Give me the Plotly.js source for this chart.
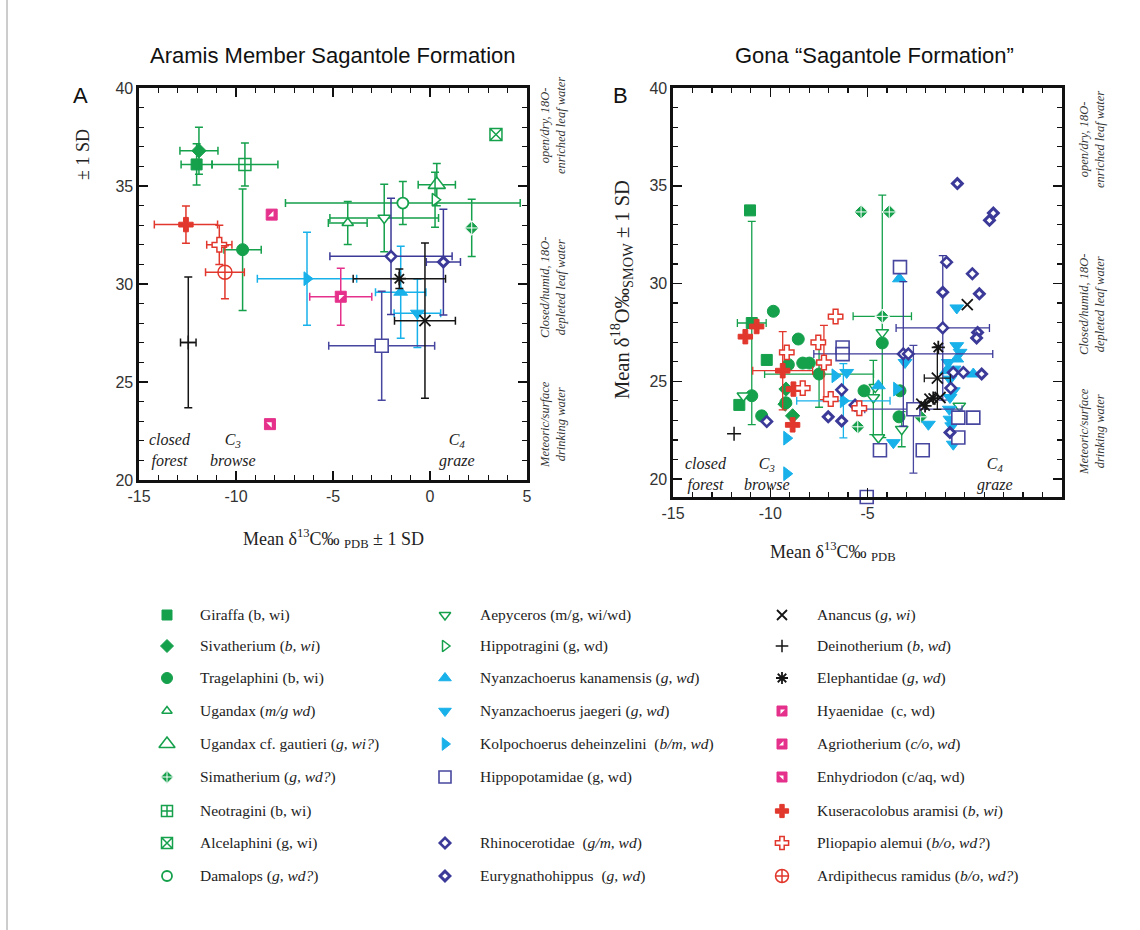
<!DOCTYPE html>
<html><head><meta charset="utf-8">
<script src="https://cdn.plot.ly/plotly-3.0.1.min.js"></script>
<style>html,body{margin:0;padding:0;background:#fff}#chart{width:1140px;height:930px}</style>
</head><body><div id="chart"></div>
<script>
// ---------- DATA: each row = [mean δ13C, mean δ18O, SD δ13C, SD δ18O] (0 = no bar) ----------
// Panel A — Aramis Member, Sagantole Formation
const A_Giraffa      = [[-12.03, 36.1, 0.8, 1.05]];
const A_Sivatherium  = [[-11.91, 36.8, 0.98, 1.2]];
const A_Tragelaphini = [[-9.66, 31.75, 0.96, 3.1]];
const A_Ugandax      = [[-4.24, 33.11, 1.0, 1.1]];
const A_UgandaxCf    = [[0.35, 35.07, 0.96, 1.08]];
const A_Simatherium  = [[2.15, 32.86, 0, 1.46]];
const A_Neotragini   = [[-9.54, 36.1, 1.7, 1.1]];
const A_Alcelaphini  = [[3.4, 37.63, 0, 0]];
const A_Damalops     = [[-1.4, 34.13, 6.05, 1.1]];
const A_Aepyceros    = [[-2.36, 33.37, 2.8, 1.72]];
const A_Hippotragini = [[0.26, 34.3, 0, 1.4]];
const A_Kanamensis   = [[-1.51, 29.58, 1.3, 2.35]];
const A_Jaegeri      = [[-0.65, 28.51, 1.2, 1.75]];
const A_Kolpochoerus = [[-6.34, 30.27, 2.56, 2.37]];
const A_Hippo        = [[-2.49, 26.85, 2.73, 2.78]];
const A_Rhino        = [[-2.01, 31.41, 3.15, 2.97]];
const A_Eury         = [[0.69, 31.12, 0.88, 2.7]];
const A_Anancus      = [[-0.26, 28.13, 1.57, 3.96]];
const A_Deinotherium = [[-12.46, 27.02, 0.4, 3.34]];
const A_Elephantidae = [[-1.58, 30.27, 2.38, 0.5]];
const A_Hyaenidae    = [[-4.6, 29.35, 1.6, 1.45]];
const A_Agriotherium = [[-8.16, 33.54, 0, 0]];
const A_Enhydriodon  = [[-8.25, 22.85, 0, 0]];
const A_Kusera       = [[-12.58, 33.03, 1.63, 0.95]];
const A_Pliopapio    = [[-10.86, 32.0, 0.65, 1.0]];
const A_Ardi         = [[-10.57, 30.6, 1.0, 1.35]];

// Panel B — Gona "Sagantole Formation"
const B_Giraffa      = [[-11.04,33.74,0,0],[-10.95,27.98,0.74,5.2],[-10.18,26.09,0,0],[-11.59,23.79,0,0]];
const B_Sivatherium  = [[-9.19,24.6,0,0],[-9.24,23.83,0,0],[-8.85,23.23,0,0]];
const B_Tragelaphini = [[-9.84,28.58,0,0],[-8.56,27.16,0,0],[-9.07,25.85,0,0],[-8.33,25.93,0,0],[-7.99,25.93,0,0],[-7.49,25.37,2.8,1.7],[-10.95,24.26,0,0],[-10.44,23.23,0,0],[-9.2,23.9,0,0],[-4.24,26.96,0,0],[-5.18,24.51,0,0],[-3.33,24.51,0,0],[-3.38,23.18,0,0]];
const B_Simatherium  = [[-5.33,33.66,0,0],[-3.88,33.66,0,0],[-4.24,28.32,1.5,6.2],[-5.5,22.67,0,0],[-2.27,23.18,0,0]];
const B_Aepyceros    = [[-11.38,24.26,0,0],[-4.24,27.5,0,0],[-4.6,24.7,0,0],[-4.7,24.17,0,1.9],[-3.24,22.55,0,0.9],[-4.44,22.12,0,0],[-0.28,23.74,0,0]];
const B_Kanamensis   = [[-3.36,30.24,0,0],[-0.41,26.14,0,0],[0.44,25.37,0,0],[-0.93,25.54,0,0],[-4.44,24.77,0,0]];
const B_Jaegeri      = [[-0.41,28.75,0,0],[-0.41,26.82,0,0],[-0.24,26.48,0,0],[-0.85,25.96,0,0],[-0.55,25.62,0,0],[-0.76,25.11,0,0],[-0.59,24.51,0,0],[-0.76,24.17,0,0],[-0.79,23.57,0,0],[-0.76,23.06,0,0],[-0.67,22.72,0,0],[-0.59,21.78,0,0],[-1.87,22.8,0,0],[-3.67,21.86,0,0],[-3.07,25.96,0,0],[-6.07,25.45,0,0]];
const B_Kolpochoerus = [[-6.67,25.28,0,0],[-6.24,24.0,2.4,1.9],[-9.15,22.09,0,0],[-9.15,20.27,0,0],[-3.5,24.6,0,0]];
const B_Hippo        = [[-3.33,30.84,0,0],[-6.28,26.73,0,0],[-6.28,26.39,0,0],[-2.64,23.57,2.5,3.27],[-4.36,21.47,0,0],[-2.16,21.47,0,0],[-5.04,19.08,0,0],[-0.33,23.14,0,0],[0.44,23.14,0,0],[-0.33,22.12,0,0]];
const B_Rhino        = [[-3.16,26.4,4.6,3.7],[-2.9,26.4,0,0],[-1.13,27.73,2.4,3.7],[-0.59,25.45,0,0],[-0.07,25.45,0,0],[-0.72,24.65,0,0],[-6.33,24.56,0,0],[-5.64,23.78,0,0],[-10.18,22.94,0,0],[-0.93,31.09,0,0],[0.39,30.5,0,0]];
const B_Eury         = [[-0.38,35.11,0,0],[1.47,33.6,0,0],[1.27,33.23,0,0],[-1.13,29.55,0,0],[0.75,29.47,0,0],[0.66,27.5,0,0],[0.61,27.21,0,0],[0.87,25.37,0,0],[-0.76,22.38,0,0],[-7.02,23.18,0,0],[-6.33,22.97,0,0]];
const B_Anancus      = [[0.13,28.92,0,0],[-1.41,25.16,0.67,1.6],[-1.27,24.17,0,0],[-2.21,23.83,0,0],[-1.79,24.09,0,0]];
const B_Elephantidae = [[-1.36,26.73,0,0],[-1.62,24.14,0,0],[-2.04,23.74,0,0]];
const B_Deinotherium = [[-11.86,22.32,0,0]];
const B_Kusera       = [[-10.7,27.8,0,0],[-11.28,27.28,0,0],[-9.36,25.54,1.54,2.0],[-8.81,24.6,0,0],[-8.85,22.77,0,0]];
const B_Pliopapio    = [[-6.64,28.31,0,0],[-7.53,26.99,0,0],[-9.15,26.48,0,0],[-7.24,25.96,0,1.9],[-8.33,24.65,0,0],[-6.89,24.09,0,0],[-5.42,23.62,0,0]];

// Axis ticks
const xTickValsA = [-15, -10, -5, 0, 5];
const xTickTextA = ['-15', '-10', '-5', '0', '5'];
const xTickValsB = [-15, -10, -5];
const xTickTextB = ['-15', '-10', '-5'];
const yTickVals = [20, 25, 30, 35, 40];

// Legend labels (column, row)
const legendLabels = [
  ['Giraffa','Giraffa (b, wi)',0,0], ['Sivatherium','Sivatherium (<i>b, wi</i>)',0,1],
  ['Tragelaphini','Tragelaphini (b, wi)',0,2], ['Ugandax','Ugandax (<i>m/g wd</i>)',0,3],
  ['UgandaxCf','Ugandax cf. gautieri (<i>g, wi?</i>)',0,4], ['Simatherium','Simatherium (<i>g, wd?</i>)',0,5],
  ['Neotragini','Neotragini (b, wi)',0,6], ['Alcelaphini','Alcelaphini (g, wi)',0,7],
  ['Damalops','Damalops (<i>g, wd?</i>)',0,8],
  ['Aepyceros','Aepyceros (m/g, wi/wd)',1,0], ['Hippotragini','Hippotragini (g, wd)',1,1],
  ['Kanamensis','Nyanzachoerus kanamensis (<i>g, wd</i>)',1,2], ['Jaegeri','Nyanzachoerus jaegeri (<i>g, wd</i>)',1,3],
  ['Kolpochoerus','Kolpochoerus deheinzelini  (<i>b/m, wd</i>)',1,4], ['Hippo','Hippopotamidae (g, wd)',1,5],
  ['Rhino','Rhinocerotidae  (<i>g/m, wd</i>)',1,7], ['Eury','Eurygnathohippus  (<i>g, wd</i>)',1,8],
  ['Anancus','Anancus (<i>g, wi</i>)',2,0], ['Deinotherium','Deinotherium (<i>b, wd</i>)',2,1],
  ['Elephantidae','Elephantidae (<i>g, wd</i>)',2,2], ['Hyaenidae','Hyaenidae  (c, wd)',2,3],
  ['Agriotherium','Agriotherium (<i>c/o, wd</i>)',2,4], ['Enhydriodon','Enhydriodon (c/aq, wd)',2,5],
  ['Kusera','Kuseracolobus aramisi (<i>b, wi</i>)',2,6], ['Pliopapio','Pliopapio alemui (<i>b/o, wd?</i>)',2,7],
  ['Ardi','Ardipithecus ramidus (<i>b/o, wd?</i>)',2,8]
];

// ---------- STYLES ----------
const G='#15a04c', CY='#19b1ea', NV='#48479f', BK='#151515', PK='#e5318b', RD='#e1372c', DB='#3c3a98';
const SANS='Liberation Sans, Arial, sans-serif', SERIF='Liberation Serif, Times New Roman, serif';
const W='#ffffff';
const sty = {
  Giraffa:{c:G, sym:'square', sz:11},
  Sivatherium:{c:G, sym:'diamond', sz:11},
  Tragelaphini:{c:G, sym:'circle', sz:12},
  Ugandax:{c:G, sym:'triangle-up', sz:10, fill:W, lw:1.5},
  UgandaxCf:{c:G, sym:'triangle-up', sz:15, fill:W, lw:1.6},
  Simatherium:{c:G, sym:'diamond-cross', sz:11, lc:W, lw:1},
  Neotragini:{c:G, sym:'square-cross', sz:12, fill:W, lw:1.5},
  Alcelaphini:{c:G, sym:'square-x', sz:12, fill:W, lw:1.5},
  Damalops:{c:G, sym:'circle', sz:11, fill:W, lw:1.8},
  Aepyceros:{c:G, sym:'triangle-down', sz:11, fill:W, lw:1.5},
  Hippotragini:{c:G, sym:'triangle-right', sz:11, fill:W, lw:1.5},
  Kanamensis:{c:CY, sym:'triangle-up', sz:12},
  Jaegeri:{c:CY, sym:'triangle-down', sz:12},
  Kolpochoerus:{c:CY, sym:'triangle-right', sz:12},
  Hippo:{c:NV, sym:'square', sz:13, fill:W, lw:1.6},
  Rhino:{c:DB, sym:'diamond', sz:8, fill:W, lw:2.6},
  Eury:{c:DB, sym:'diamond', sz:7.5, fill:W, lw:3},
  Anancus:{c:BK, sym:'x-thin-open', sz:11, lw:1.8},
  Deinotherium:{c:BK, sym:'cross-thin-open', sz:10, lw:1.5},
  Elephantidae:{c:BK, sym:'asterisk-open', sz:11, lw:1.8},
  Hyaenidae:{c:PK, sym:'square', sz:11, over:'triangle-nw'},
  Agriotherium:{c:PK, sym:'square', sz:11, over:'triangle-se'},
  Enhydriodon:{c:PK, sym:'square', sz:11, over:'triangle-ne'},
  Kusera:{c:RD, sym:'cross', sz:12},
  Pliopapio:{c:RD, sym:'cross', sz:12, fill:W, lw:1.5},
  Ardi:{c:RD, sym:'circle-cross', sz:14, fill:W, lw:1.5}
};
const dataA = {Giraffa:A_Giraffa,Sivatherium:A_Sivatherium,Tragelaphini:A_Tragelaphini,Ugandax:A_Ugandax,UgandaxCf:A_UgandaxCf,
  Simatherium:A_Simatherium,Neotragini:A_Neotragini,Alcelaphini:A_Alcelaphini,Damalops:A_Damalops,Aepyceros:A_Aepyceros,
  Hippotragini:A_Hippotragini,Kanamensis:A_Kanamensis,Jaegeri:A_Jaegeri,Kolpochoerus:A_Kolpochoerus,Hippo:A_Hippo,Rhino:A_Rhino,
  Eury:A_Eury,Anancus:A_Anancus,Deinotherium:A_Deinotherium,Elephantidae:A_Elephantidae,Hyaenidae:A_Hyaenidae,
  Agriotherium:A_Agriotherium,Enhydriodon:A_Enhydriodon,Kusera:A_Kusera,Pliopapio:A_Pliopapio,Ardi:A_Ardi};
const dataB = {Giraffa:B_Giraffa,Sivatherium:B_Sivatherium,Tragelaphini:B_Tragelaphini,Simatherium:B_Simatherium,Aepyceros:B_Aepyceros,
  Kanamensis:B_Kanamensis,Jaegeri:B_Jaegeri,Kolpochoerus:B_Kolpochoerus,Hippo:B_Hippo,Rhino:B_Rhino,Eury:B_Eury,
  Anancus:B_Anancus,Elephantidae:B_Elephantidae,Deinotherium:B_Deinotherium,Kusera:B_Kusera,Pliopapio:B_Pliopapio};

// ---------- TRACES ----------
const traces = [];
function errArr(d, i){ return d.map(p => p[i] > 0 ? p[i] : NaN); }
function markerOf(s, size){
  return {symbol:s.sym, size:size||s.sz, color:s.fill||s.c, line:{color:s.lc||s.c, width:s.lw!==undefined?s.lw:1}};
}
function addSeries(key, d, xa, ya, thick){
  const s = sty[key];
  const xs = d.map(p=>p[0]), ys = d.map(p=>p[1]);
  traces.push({type:'scatter', mode:'markers', x:xs, y:ys, xaxis:xa, yaxis:ya, showlegend:false, hoverinfo:'skip', cliponaxis:false,
    marker:markerOf(s),
    error_x:{type:'data', array:errArr(d,2), visible:true, color:s.c, thickness:thick, width:4},
    error_y:{type:'data', array:errArr(d,3), visible:true, color:s.c, thickness:thick, width:4}});
  if (s.over) traces.push({type:'scatter', mode:'markers', x:xs, y:ys, xaxis:xa, yaxis:ya, showlegend:false, hoverinfo:'skip', cliponaxis:false,
    marker:{symbol:s.over, size:6, color:W, line:{width:0}}});
}
Object.keys(dataA).forEach(k => addSeries(k, dataA[k], 'x', 'y', 1.5));
Object.keys(dataB).forEach(k => addSeries(k, dataB[k], 'x2', 'y2', 1.3));

// Legend (drawn on an invisible full-page axis)
const legColX = [167, 445, 782], legTextX = [198, 478, 815];
const legRowY = [615, 646, 678, 711, 744, 777, 811, 843, 876];
const ann = [];
function txt(x, y, text, o){ ann.push(Object.assign({xref:'x3', yref:'y3', x:x, y:y, text:text, showarrow:false, xanchor:'center', yanchor:'middle'}, o||{})); }
legendLabels.forEach(([k, label, c, r]) => {
  const s = sty[k];
  traces.push({type:'scatter', mode:'markers', x:[legColX[c]], y:[legRowY[r]], xaxis:'x3', yaxis:'y3', showlegend:false, hoverinfo:'skip', cliponaxis:false,
    marker:markerOf(s, s.sz >= 9 ? s.sz-1 : s.sz)});
  if (s.over) traces.push({type:'scatter', mode:'markers', x:[legColX[c]], y:[legRowY[r]], xaxis:'x3', yaxis:'y3', showlegend:false, hoverinfo:'skip', cliponaxis:false,
    marker:{symbol:s.over, size:5, color:W, line:{width:0}}});
  txt(legTextX[c], legRowY[r], label, {xanchor:'left', font:{family:SERIF, size:15.5, color:'#222'}});
});

// Texts
txt(333, 55, 'Aramis Member Sagantole Formation', {font:{family:SANS, size:22, color:'#111'}});
txt(874, 55, 'Gona “Sagantole Formation”', {font:{family:SANS, size:22, color:'#111'}});
txt(80, 95, 'A', {font:{family:SANS, size:22, color:'#111'}});
txt(620, 95, 'B', {font:{family:SANS, size:22, color:'#111'}});
txt(333, 538, 'Mean δ<sup>13</sup>C‰ <sub>PDB</sub> ± 1 SD', {font:{family:SERIF, size:18, color:'#222'}});
txt(833, 551, 'Mean δ<sup>13</sup>C‰ <sub>PDB</sub>', {font:{family:SERIF, size:18, color:'#222'}});
txt(83, 155, '± 1 SD', {textangle:-90, font:{family:SERIF, size:18, color:'#222'}});
txt(621, 290, 'Mean δ<sup>18</sup>O‰<sub>SMOW</sub> ± 1 SD', {textangle:-90, font:{family:SERIF, size:20.5, color:'#222'}});
const sideF = {family:SERIF, size:12.5, color:'#333'};
txt(553, 126, '<i>open/dry, 18O-<br>enriched leaf water</i>', {textangle:-90, font:sideF});
txt(553, 288, '<i>Closed/humid, 18O-<br>depleted leaf water</i>', {textangle:-90, font:sideF});
txt(553, 425, '<i>Meteoric/surface<br>drinking water</i>', {textangle:-90, font:sideF});
txt(1092, 140, '<i>open/dry, 18O-<br>enriched leaf water</i>', {textangle:-90, font:sideF});
txt(1092, 305, '<i>Closed/humid, 18O-<br>depleted leaf water</i>', {textangle:-90, font:sideF});
txt(1092, 432, '<i>Meteoric/surface<br>drinking water</i>', {textangle:-90, font:sideF});
const inF = {family:SERIF, size:16, color:'#222'};
txt(170, 450, '<i>closed<br>forest</i>', {font:inF});
txt(233, 450, '<i>C<sub>3</sub><br>browse</i>', {font:inF});
txt(457, 450, '<i>C<sub>4</sub><br>graze</i>', {font:inF});
txt(706, 474, '<i>closed<br>forest</i>', {font:inF});
txt(767, 474, '<i>C<sub>3</sub><br>browse</i>', {font:inF});
txt(995, 474, '<i>C<sub>4</sub><br>graze</i>', {font:inF});

// ---------- LAYOUT ----------
const ax = {showline:true, linewidth:2.6, linecolor:'#111', mirror:'allticks', ticks:'inside', ticklen:9, tickwidth:1.5, tickcolor:'#111',
  showgrid:false, zeroline:false, fixedrange:true, tickfont:{family:SANS, size:16, color:'#333'},
  minor:{ticks:'inside', ticklen:5, tickwidth:1.2, tickcolor:'#111', dtick:1, tick0:0, showgrid:false}};
const P = v => v/1140, Q = v => 1 - v/930;
const layout = {
  width:1140, height:930, margin:{l:0, r:0, t:0, b:0}, paper_bgcolor:'#fff', plot_bgcolor:'rgba(0,0,0,0)', showlegend:false,
  xaxis: Object.assign({}, ax, {domain:[P(139), P(527)], range:[-15,5], tickmode:'array', tickvals:xTickValsA, ticktext:xTickTextA, anchor:'y'}),
  yaxis: Object.assign({}, ax, {domain:[Q(480), Q(88)], range:[20,40], tickmode:'array', tickvals:yTickVals, anchor:'x'}),
  xaxis2: Object.assign({}, ax, {domain:[P(673), P(1062)], range:[-15,5], tickmode:'array', tickvals:xTickValsB, ticktext:xTickTextB, anchor:'y2'}),
  yaxis2: Object.assign({}, ax, {domain:[Q(497), Q(88)], range:[19.08,40], tickmode:'array', tickvals:yTickVals, anchor:'x2'}),
  xaxis3: {domain:[0,1], range:[0,1140], visible:false, fixedrange:true, anchor:'y3'},
  yaxis3: {domain:[0,1], range:[930,0], visible:false, fixedrange:true, anchor:'x3'},
  annotations: ann,
  shapes:[{type:'line', xref:'paper', yref:'paper', x0:P(7), x1:P(7), y0:0, y1:1, line:{color:'#9a9a9a', width:1}}]
};
Plotly.newPlot('chart', traces, layout, {staticPlot:true, displayModeBar:false});
</script>
</body></html>
